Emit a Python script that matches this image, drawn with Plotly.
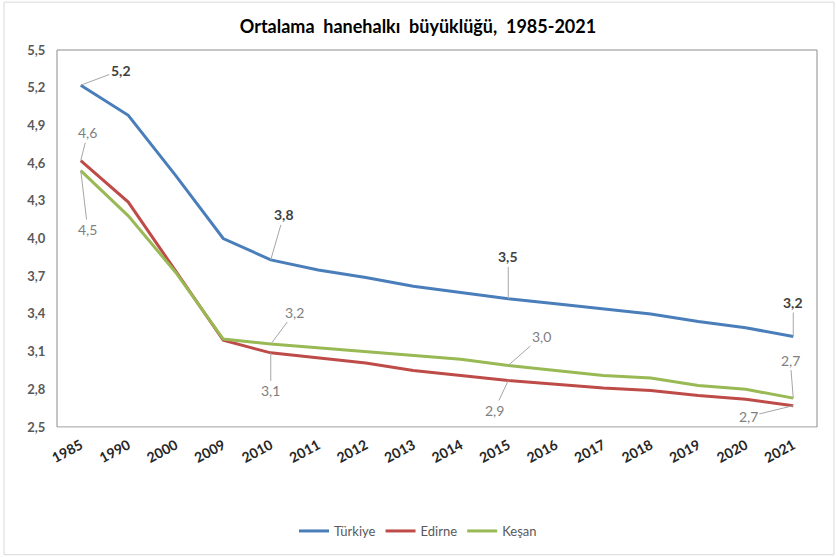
import plotly.graph_objects as go

# Ortalama hanehalkı büyüklüğü (kişi)
years = ["1985", "1990", "2000", "2009", "2010", "2011", "2012", "2013",
         "2014", "2015", "2016", "2017", "2018", "2019", "2020", "2021"]
turkiye = [5.22, 4.98, 4.50, 4.00, 3.83, 3.75, 3.69, 3.62,
           3.57, 3.52, 3.48, 3.44, 3.40, 3.34, 3.29, 3.22]
edirne = [4.62, 4.29, 3.74, 3.19, 3.09, 3.05, 3.01, 2.95,
          2.91, 2.87, 2.84, 2.81, 2.79, 2.75, 2.72, 2.67]
kesan = [4.54, 4.18, 3.73, 3.20, 3.16, 3.13, 3.10, 3.07,
         3.04, 2.99, 2.95, 2.91, 2.89, 2.83, 2.80, 2.73]

series = [
    ("Türkiye", turkiye, "#4A7EBB"),
    ("Edirne", edirne, "#BE4B48"),
    ("Keşan", kesan, "#98B954"),
]

# labelled points: (series values, year index, label offset x, offset y, bold)
labelled = [
    (turkiye, 0, 40, -15, True),
    (turkiye, 4, 13, -45, True),
    (turkiye, 9, 0, -42, True),
    (turkiye, 15, 0, -34, True),
    (edirne, 0, 7, -28, False),
    (edirne, 4, 0, 38, False),
    (edirne, 9, -14, 30, False),
    (edirne, 15, -45, 11, False),
    (kesan, 0, 7, 59, False),
    (kesan, 4, 24, -32, False),
    (kesan, 9, 33, -29, False),
    (kesan, 15, -3, -38, False),
]

FONT = "Lato"
fig = go.Figure()
for name, vals, color in series:
    fig.add_trace(go.Scatter(
        x=list(range(len(years))), y=vals, name=name, mode="lines",
        line=dict(color=color, width=3),
    ))

for vals, i, dx, dy, bold in labelled:
    txt = f"{vals[i]:.1f}".replace(".", ",")
    fig.add_annotation(
        x=i, y=vals[i], xref="x", yref="y",
        text=f"<b>{txt}</b>" if bold else txt,
        showarrow=True, arrowhead=0, arrowwidth=1, arrowcolor="#A6A6A6",
        standoff=0, ax=dx, ay=dy, axref="pixel", ayref="pixel",
        font=dict(family=FONT, size=14, color="#404040" if bold else "#7F7F7F"),
    )

# plot-area frame and outer chart border
fig.add_shape(type="rect", xref="paper", yref="paper", x0=0, y0=0, x1=1, y1=1,
              line=dict(color="#8C8C8C", width=1), layer="below")
fig.add_shape(type="rect", xref="paper", yref="paper",
              x0=(4 - 57) / 760, x1=(834 - 57) / 760,
              y0=(428 - 556) / 378, y1=(428 - 2) / 378,
              line=dict(color="#D9D9D9", width=1), layer="below")

fig.update_layout(
    width=836, height=557,
    margin=dict(l=57, r=19, t=50, b=129),
    paper_bgcolor="white", plot_bgcolor="white",
    separators=",.",
    font=dict(family=FONT, color="#595959"),
    title=dict(
        text="<b>Ortalama  hanehalkı  büyüklüğü,  1985-2021</b>",
        x=0.5, xanchor="center", y=1 - 27 / 557, yanchor="middle",
        font=dict(family=FONT, size=18, color="#000000"),
    ),
    xaxis=dict(
        range=[-0.5, 15.5],
        tickmode="array", tickvals=list(range(len(years))), ticktext=years,
        showgrid=False, zeroline=False,
        showline=True, linecolor="#D9D9D9", linewidth=1,
        ticks="outside", ticklen=4, tickcolor="rgba(0,0,0,0)", tickangle=-28,
        tickfont=dict(family=FONT, size=14, color="#262626", weight="bold"),
    ),
    yaxis=dict(
        range=[2.5, 5.5], dtick=0.3, tick0=2.5, tickformat=".1f",
        showgrid=False, zeroline=False, showline=False,
        ticks="outside", ticklen=8, tickcolor="rgba(0,0,0,0)",
        tickfont=dict(family=FONT, size=13, color="#595959", weight="bold"),
    ),
    legend=dict(
        orientation="h", x=(418 - 57) / 760, xanchor="center",
        y=(428 - 531) / 378, yanchor="middle",
        font=dict(family=FONT, size=13, color="#595959"),
        itemwidth=30,
    ),
    showlegend=True,
)

fig.write_html("out.html")
